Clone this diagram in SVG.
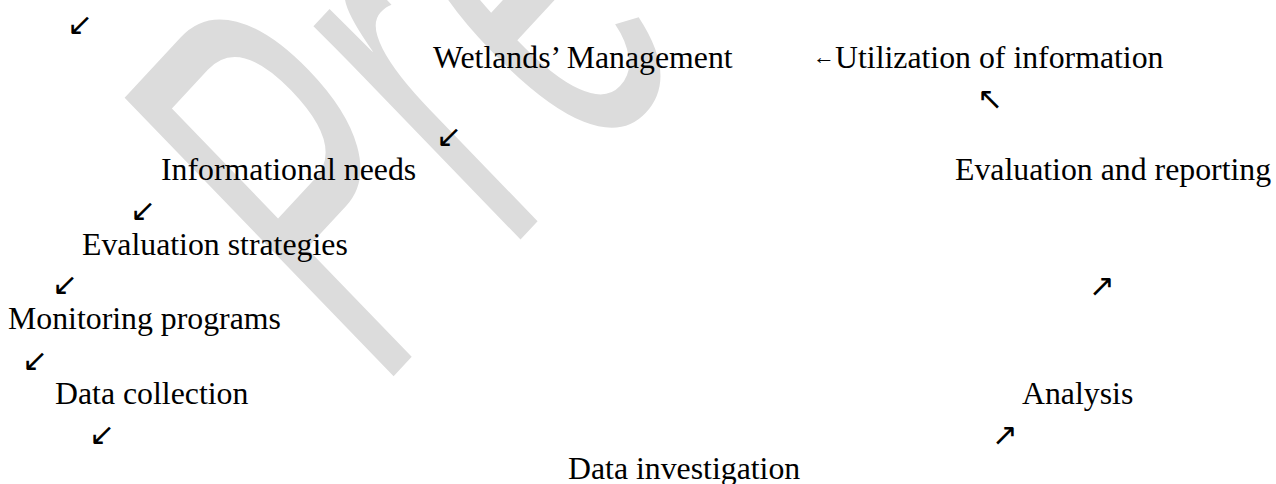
<svg xmlns="http://www.w3.org/2000/svg" width="1276" height="484" viewBox="0 0 1276 484">
<style>
.t { font-family: "Liberation Serif", "Times New Roman", serif; font-size: 31.8px; fill: #000; }
.a { font-family: "DejaVu Sans", sans-serif; font-size: 31px; fill: #000; }
.wm { font-family: "Liberation Sans", Arial, sans-serif; font-size: 100px; fill: #dcdcdc; }
</style>
<rect width="1276" height="484" fill="#fff"/>
<g id="watermark">
<text class="wm" transform="matrix(1.94 -2.09 3.91 4.05 377.7 393.5)">Pr<tspan dx="8">e</tspan></text>
</g>
<g id="connectors">
<text class="a" x="67" y="35">↙</text>
<text class="a" x="436" y="147">↙</text>
<text class="a" x="977" y="109">↖</text>
<text class="a" x="130" y="221">↙</text>
<text class="a" x="52" y="295">↙</text>
<text class="a" x="1089" y="296">↗</text>
<text class="a" x="22" y="371">↙</text>
<text class="a" x="89" y="445">↙</text>
<text class="a" x="992" y="445">↗</text>
</g>
<g id="node-wetlands"><text class="t" x="433" y="67.5">Wetlands’ Management</text></g>
<g id="node-utilization"><text class="t" y="67.5"><tspan x="813" dy="-4" font-size="22">←</tspan><tspan x="835" dy="4">Utilization of information</tspan></text></g>
<g id="node-informational"><text class="t" x="161" y="180">Informational needs</text></g>
<g id="node-evalreport"><text class="t" x="955" y="180">Evaluation and reporting</text></g>
<g id="node-evalstrat"><text class="t" x="82" y="255">Evaluation strategies</text></g>
<g id="node-monitoring"><text class="t" x="8" y="328.5">Monitoring programs</text></g>
<g id="node-datacollection"><text class="t" x="55" y="404">Data collection</text></g>
<g id="node-analysis"><text class="t" x="1022" y="404">Analysis</text></g>
<g id="node-datainvestigation"><text class="t" x="568" y="478.5">Data investigation</text></g>
</svg>
